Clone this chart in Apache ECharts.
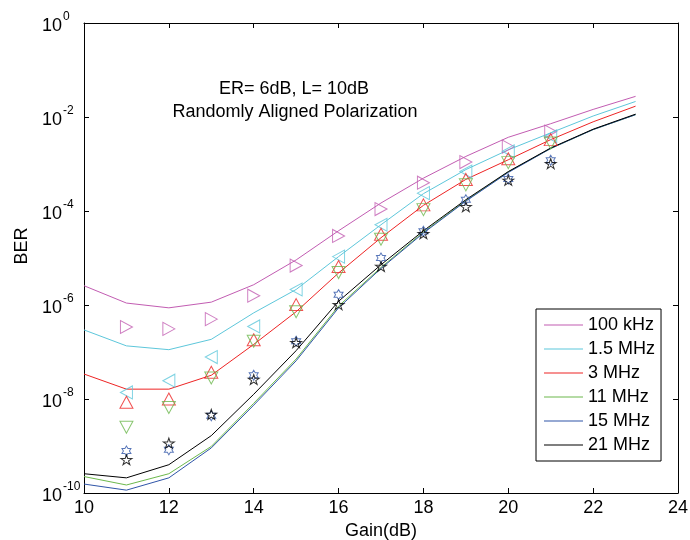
<!DOCTYPE html>
<html>
<head>
<meta charset="utf-8">
<script src="https://cdn.jsdelivr.net/npm/echarts@6/dist/echarts.min.js"></script>
<style>html,body{margin:0;padding:0;background:#fff}#c{width:690px;height:540px}</style>
</head>
<body>
<div id="c"></div>
<script>
// ---- data ----
const gainLine = [10, 11, 12, 13, 14, 15, 16, 17, 18, 19, 20, 21, 22, 23];
const gainMark = [11, 12, 13, 14, 15, 16, 17, 18, 19, 20, 21];
const seriesNames = ['100 kHz', '1.5 MHz', '3 MHz', '11 MHz', '15 MHz', '21 MHz'];

const line100k = [2.57e-6, 1.10e-6, 8.7e-7, 1.15e-6, 2.7e-6, 9.1e-6, 3.8e-5, 1.48e-4, 5.0e-4, 1.45e-3, 3.7e-3, 7.2e-3, 1.45e-2, 2.75e-2];
const line1M5 = [2.95e-7, 1.35e-7, 1.12e-7, 1.86e-7, 6.8e-7, 2.14e-6, 1.07e-5, 5.1e-5, 2.34e-4, 7.6e-4, 2.0e-3, 4.6e-3, 1.05e-2, 2.14e-2];
const line3M = [3.4e-8, 1.62e-8, 1.62e-8, 3.2e-8, 1.45e-7, 7.2e-7, 4.8e-6, 2.7e-5, 1.32e-4, 4.7e-4, 1.23e-3, 3.3e-3, 7.9e-3, 1.7e-2];
const line11M = [2.24e-10, 1.48e-10, 2.57e-10, 9.8e-10, 8.1e-9, 7.1e-8, 9.5e-7, 6.3e-6, 3.55e-5, 1.66e-4, 6.8e-4, 2.14e-3, 5.4e-3, 1.12e-2];
const line15M = [1.55e-10, 1.15e-10, 2.1e-10, 9.1e-10, 7.4e-9, 6.5e-8, 8.7e-7, 6.0e-6, 3.4e-5, 1.62e-4, 6.6e-4, 2.14e-3, 5.4e-3, 1.12e-2];
const line21M = [2.57e-10, 2.1e-10, 4.0e-10, 1.66e-9, 1.26e-8, 1.07e-7, 1.2e-6, 7.2e-6, 3.8e-5, 1.74e-4, 6.9e-4, 2.19e-3, 5.5e-3, 1.15e-2];

const mark100k = [3.4e-7, 3.1e-7, 5.0e-7, 1.58e-6, 6.9e-6, 2.95e-5, 1.1e-4, 4.0e-4, 1.1e-3, 2.34e-3, 4.9e-3];
const mark1M5 = [1.38e-8, 2.45e-8, 7.8e-8, 3.5e-7, 2.14e-6, 1.07e-5, 5.1e-5, 2.4e-4, 6.9e-4, 1.86e-3, 3.9e-3];
const mark3M = [8.5e-9, 1.0e-8, 3.7e-8, 1.82e-7, 1.02e-6, 6.6e-6, 3.2e-5, 1.35e-4, 4.7e-4, 1.29e-3, 3.3e-3];
const mark11M = [2.5e-9, 6.6e-9, 2.8e-8, 1.7e-7, 7.2e-7, 4.9e-6, 2.5e-5, 1.07e-4, 3.6e-4, 1.07e-3, 2.8e-3];
const mark15M = [7.8e-10, 8.3e-10, 4.4e-9, 3.2e-8, 1.7e-7, 1.66e-6, 1.0e-5, 3.7e-5, 1.74e-4, 4.8e-4, 1.2e-3];
const mark21M = [5.1e-10, 1.15e-9, 4.7e-9, 2.6e-8, 1.58e-7, 1.02e-6, 6.6e-6, 3.3e-5, 1.23e-4, 4.5e-4, 1.02e-3];

const xTicks = [10, 12, 14, 16, 18, 20, 22, 24];
const annotation = ['ER= 6dB, L= 10dB', 'Randomly Aligned Polarization'];
const xName = 'Gain(dB)';
const yName = 'BER';

// ---- styles ----
const colors = ['#C25CB2', '#5DC7DB', '#EE2424', '#6CB84C', '#2F55A8', '#000000'];
const FONT = 'Liberation Sans, Arial, sans-serif';
const FS = 18;
const star5 = 'path://M0,-10 L2.25,-3.09 L9.51,-3.09 L3.63,1.18 L5.88,8.09 L0,3.82 L-5.88,8.09 L-3.63,1.18 L-9.51,-3.09 L-2.25,-3.09 Z';
const star6 = 'path://M0,-10 L2.89,-5 L8.66,-5 L5.77,0 L8.66,5 L2.89,5 L0,10 L-2.89,5 L-8.66,5 L-5.77,0 L-8.66,-5 L-2.89,-5 Z';
const markerDefs = [
  {data: mark100k, symbol: 'triangle', rotate: -90, size: [13, 12]},
  {data: mark1M5, symbol: 'triangle', rotate: 90, size: [13, 12]},
  {data: mark3M, symbol: 'triangle', rotate: 0, size: [13, 12]},
  {data: mark11M, symbol: 'triangle', rotate: 180, size: [13, 12]},
  {data: mark15M, symbol: star6, rotate: 0, size: [9, 10]},
  {data: mark21M, symbol: star5, rotate: 0, size: [11, 10]}
];
const lineData = [line100k, line1M5, line3M, line11M, line15M, line21M];

const series = [];
lineData.forEach((arr, i) => {
  series.push({
    name: seriesNames[i], type: 'line', xAxisIndex: 0, yAxisIndex: 0,
    data: gainLine.map((g, k) => [g, arr[k]]),
    symbol: 'none', lineStyle: {color: colors[i], width: 1}, itemStyle: {color: colors[i]},
    silent: true, animation: false, z: 2
  });
});
markerDefs.forEach((m, i) => {
  series.push({
    name: seriesNames[i] + ' pts', type: 'scatter', xAxisIndex: 0, yAxisIndex: 0,
    data: gainMark.map((g, k) => [g, m.data[k]]),
    symbol: m.symbol, symbolSize: m.size, symbolRotate: m.rotate,
    itemStyle: {color: 'rgba(0,0,0,0)', borderColor: colors[i], borderWidth: 1},
    silent: true, animation: false, z: 3
  });
});

const axisCommon = {
  axisLine: {show: true, lineStyle: {color: '#000', width: 1}},
  axisTick: {show: true, inside: true, length: 5, lineStyle: {color: '#000'}},
  splitLine: {show: false}
};

const chart = echarts.init(document.getElementById('c'), null, {renderer: 'canvas'});
chart.setOption({
  backgroundColor: '#fff',
  animation: false,
  grid: {left: 84, right: 12, top: 23, bottom: 47, containLabel: false, outerBoundsMode: 'none'},
  xAxis: [
    Object.assign({}, axisCommon, {
      type: 'value', min: xTicks[0], max: xTicks[xTicks.length - 1], interval: 2, position: 'bottom',
      axisLabel: {color: '#000', fontSize: FS, fontFamily: FONT, margin: 6},
      name: xName, nameLocation: 'middle', nameGap: 29,
      nameTextStyle: {color: '#000', fontSize: FS, fontFamily: FONT}
    }),
    Object.assign({}, axisCommon, {
      type: 'value', min: xTicks[0], max: xTicks[xTicks.length - 1], interval: 2, position: 'top',
      axisLabel: {show: false}
    })
  ],
  yAxis: [
    Object.assign({}, axisCommon, {
      type: 'log', logBase: 10, min: 1e-10, max: 1, interval: 2, position: 'left',
      axisLabel: {
        color: '#000', fontFamily: FONT, margin: 42, align: 'left',
        formatter: v => '{b|10}{s|' + Math.round(Math.log10(v)) + '}',
        rich: {
          b: {fontSize: FS, fontFamily: FONT, color: '#000', verticalAlign: 'bottom', lineHeight: 24},
          s: {fontSize: 12, fontFamily: FONT, color: '#000', verticalAlign: 'top', lineHeight: 24, padding: [0, 0, 0, 1]}
        }
      }
    }),
    Object.assign({}, axisCommon, {
      type: 'log', logBase: 10, min: 1e-10, max: 1, interval: 2, position: 'right',
      axisLabel: {show: false}
    })
  ],
  legend: {
    data: seriesNames, orient: 'vertical', left: 536, top: 309,
    icon: 'rect', itemWidth: 39, itemHeight: 1.2, itemGap: 6,
    padding: [7, 6, 7, 8],
    backgroundColor: '#fff', borderColor: '#000', borderWidth: 1, borderRadius: 0,
    textStyle: {color: '#000', fontSize: FS, fontFamily: FONT, lineHeight: 18},
    selectedMode: false
  },
  graphic: [
    {type: 'text', x: 294, y: 89, style: {text: annotation[0], fill: '#000', font: FS + 'px ' + FONT, textAlign: 'center', textVerticalAlign: 'middle'}},
    {type: 'text', x: 295, y: 112, style: {text: annotation[1], fill: '#000', font: FS + 'px ' + FONT, textAlign: 'center', textVerticalAlign: 'middle'}},
    {type: 'text', x: 22, y: 246, rotation: Math.PI / 2, style: {text: yName, fill: '#000', font: FS + 'px ' + FONT, textAlign: 'center', textVerticalAlign: 'middle'}}
  ],
  series: series
});
</script>
</body>
</html>
